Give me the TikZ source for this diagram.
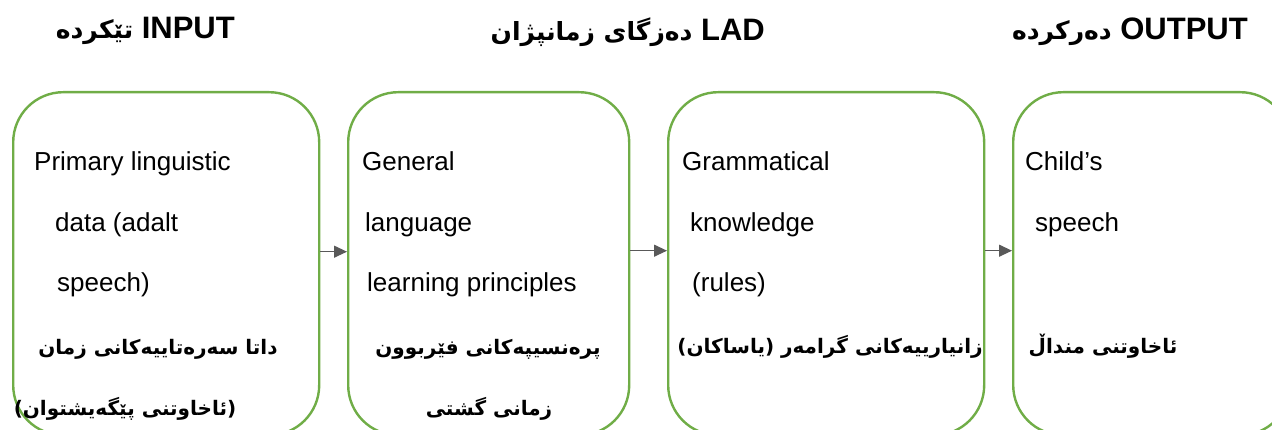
\documentclass[tikz,border=0pt]{standalone}
\usepackage{fontspec}
\setmainfont{Liberation Sans}
\newfontfamily\ku[Script=Arabic]{DejaVu Sans}
\TeXXeTstate=1
\usetikzlibrary{arrows.meta}
\definecolor{boxgreen}{HTML}{70AD47}
\definecolor{arrgray}{HTML}{595959}
\newcommand{\kutitle}[1]{{\ku\bfseries\fontsize{25}{30}\selectfont\beginR #1\endR}}
\tikzset{
  stagebox/.style={draw=boxgreen, line width=2.4pt, rounded corners=50pt, anchor=north west, inner sep=0pt},
  en/.style={anchor=base west, inner sep=0pt, font=\fontsize{26}{30}\selectfont},
  kutext/.style={anchor=base, inner sep=0pt, font=\ku\bfseries\fontsize{20}{26}\selectfont},
  ttl/.style={anchor=base east, inner sep=0pt, font=\bfseries\fontsize{31}{36}\selectfont},
  flow/.style={draw=arrgray, line width=1.2pt, -{Triangle[length=13pt,width=12pt]}}
}
\begin{document}
\begin{tikzpicture}[x=1pt,y=-1pt]
\useasboundingbox (0,0) rectangle (1272,430);
\clip (0,0) rectangle (1272,430);
% titles
\node[ttl] (h1) at (235,39) {\kutitle{تێکردە} INPUT};
\node[ttl] (h2) at (765,41) {\kutitle{دەزگای زمانپژان} LAD};
\node[ttl] (h3) at (1248,40) {\kutitle{دەرکردە} OUTPUT};
% boxes
\node[stagebox, minimum width=306pt, minimum height=343pt] (b1) at (12,91) {};
\node[stagebox, minimum width=281pt, minimum height=343pt] (b2) at (347,91) {};
\node[stagebox, minimum width=316pt, minimum height=343pt] (b3) at (667,91) {};
\node[stagebox, minimum width=277pt, minimum height=343pt] (b4) at (1012,91) {};
% arrows
\draw[flow] ([yshift=12pt]b1.east) -- ([yshift=12pt]b2.west);
\draw[flow] ([yshift=13pt]b2.east) -- ([yshift=13pt]b3.west);
\draw[flow] ([yshift=13pt]b3.east) -- ([yshift=13pt]b4.west);
% box 1
\node[en] (p1) at (34,171) {Primary linguistic};
\node[en] (p2) at (55,232) {data (adalt};
\node[en] (p3) at (57,292) {speech)};
\node[kutext] (p4) at (158,355) {\beginR داتا سەرەتاییەکانی زمان\endR};
\node[kutext] (p5) at (125,415) {\beginR (ئاخاوتنی پێگەیشتوان)\endR};
% box 2
\node[en] (g1) at (362,171) {General};
\node[en] (g2) at (365,232) {language};
\node[en] (g3) at (367,292) {learning principles};
\node[kutext] (g4) at (488,355) {\beginR پرەنسیپەکانی فێربوون\endR};
\node[kutext] (g5) at (489,415) {\beginR زمانی گشتی\endR};
% box 3
\node[en] (k1) at (682,171) {Grammatical};
\node[en] (k2) at (690,232) {knowledge};
\node[en] (k3) at (692,292) {(rules)};
\node[kutext, anchor=base east] (k4) at (983,353) {\beginR زانیارییەکانی گرامەر (یاساکان)\endR};
% box 4
\node[en] (c1) at (1025,171) {Child’s};
\node[en] (c2) at (1035,232) {speech};
\node[kutext] (c3) at (1103,353) {\beginR ئاخاوتنی منداڵ\endR};
\end{tikzpicture}
\end{document}
